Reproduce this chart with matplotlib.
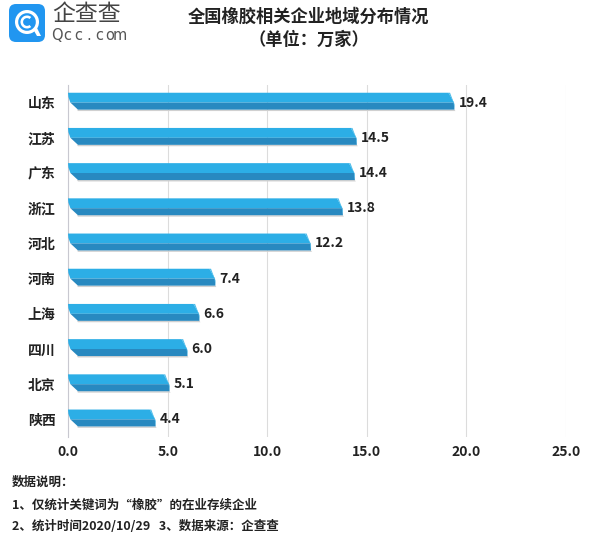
import matplotlib
matplotlib.use("Agg")
import matplotlib.pyplot as plt
from matplotlib.patches import FancyBboxPatch, Wedge, Polygon

plt.rcParams['font.family'] = ['Noto Sans CJK SC', 'DejaVu Sans']

categories = ["山东", "江苏", "广东", "浙江", "河北", "河南", "上海", "四川", "北京", "陕西"]
values = [19.4, 14.5, 14.4, 13.8, 12.2, 7.4, 6.6, 6.0, 5.1, 4.4]
xticks = [0, 5, 10, 15, 20, 25]
xtick_labels = ["0.0", "5.0", "10.0", "15.0", "20.0", "25.0"]
title1 = "全国橡胶相关企业地域分布情况"
title2 = "（单位：万家）"
notes = ["数据说明：", "1、仅统计关键词为“橡胶”的在业存续企业", "2、统计时间2020/10/29   3、数据来源：企查查"]

LIGHT = "#2CAEE6"
DARK = "#2889C0"
CAP = "#4FBDEA"

fig = plt.figure(figsize=(6.0, 5.49), dpi=100)
ax = fig.add_axes([68/600, 1-437/549, (566-68)/600, (437-85)/549])
ax.set_xlim(0, 25)
ax.set_ylim(len(categories)-0.5, -0.5)

for i, v in enumerate(values):
    yt, ym, yb = i-0.28, i+0.0, i+0.2
    # shadow
    ax.add_patch(Polygon([(0.45, yb), (v, yb), (v+0.05, yb+0.04), (0.5, yb+0.04)],
                         closed=True, fc="#d0d0d0", ec="none", zorder=2))
    ax.add_patch(Polygon([(0.0, yt), (v-0.3, yt), (v-0.02, ym), (0.12, ym), (0.02, yt+0.12)],
                         closed=True, fc=LIGHT, ec="none", zorder=3))
    ax.add_patch(Polygon([(0.12, ym), (v-0.02, ym), (v, yb), (0.5, yb)],
                         closed=True, fc=DARK, ec="none", zorder=3))
    ax.add_patch(Polygon([(v-0.3, yt), (v-0.22, yt), (v, ym+0.05), (v, yb-0.02), (v-0.05, ym)],
                         closed=True, fc=CAP, ec="none", zorder=4))
    ax.text(v+0.2, i, f"{v:.1f}", va="center", ha="left", fontsize=10,
            fontweight="bold", color="#222222", zorder=5)

ax.set_yticks(range(len(categories)))
ax.set_yticklabels(categories, fontsize=10, fontweight="bold", color="#222222")
ax.set_xticks(xticks)
ax.set_xticklabels(xtick_labels, fontsize=10, fontweight="bold", color="#222222")
ax.tick_params(axis="both", length=0)
ax.tick_params(axis="y", pad=9)
ax.tick_params(axis="x", pad=6)
ax.grid(axis="x", color="#dcdcdc", linewidth=0.8, zorder=0)
ax.set_axisbelow(True)
for s in ["top", "right", "bottom"]:
    ax.spines[s].set_visible(False)
ax.spines["left"].set_color("#c8c8d0")
ax.spines["left"].set_linewidth(0.8)

# title
fig.text(309/600, 1-17/549, title1, ha="center", va="center", fontsize=12.4,
         fontweight="bold", color="#222222")
fig.text(309/600, 1-40/549, title2, ha="center", va="center", fontsize=12.4,
         fontweight="bold", color="#222222")

# logo
lax = fig.add_axes([0, 1-50/549, 140/600, 50/549])
lax.set_xlim(0, 140)
lax.set_ylim(50, 0)
lax.axis("off")
lax.add_patch(FancyBboxPatch((9, 4), 36, 38, boxstyle="round,pad=0,rounding_size=7",
                             fc="#2196F0", ec="none"))
lax.add_patch(Wedge((27, 22), 12, 0, 360, width=3.2, fc="white", ec="none"))
lax.add_patch(Wedge((27, 22), 6.5, 50, 310, width=2.6, fc="white", ec="none"))
lax.add_patch(Polygon([(33, 29), (37, 28), (41, 36), (37, 36)], closed=True, fc="white", ec="none"))
lax.text(52, 15, "企查查", ha="left", va="center", fontsize=16.5, color="#444444")
for k, ch in enumerate("Qcc.com"):
    lax.text(57 + k*10.5, 36, ch, ha="center", va="center", fontsize=10.5,
             color="#555555", family="DejaVu Sans")

# notes
for t, yy in zip(notes, [482, 505, 527]):
    fig.text(12/600, 1-yy/549, t, ha="left", va="center", fontsize=9,
             fontweight="bold", color="#222222")

fig.savefig("out.png", dpi=100)
